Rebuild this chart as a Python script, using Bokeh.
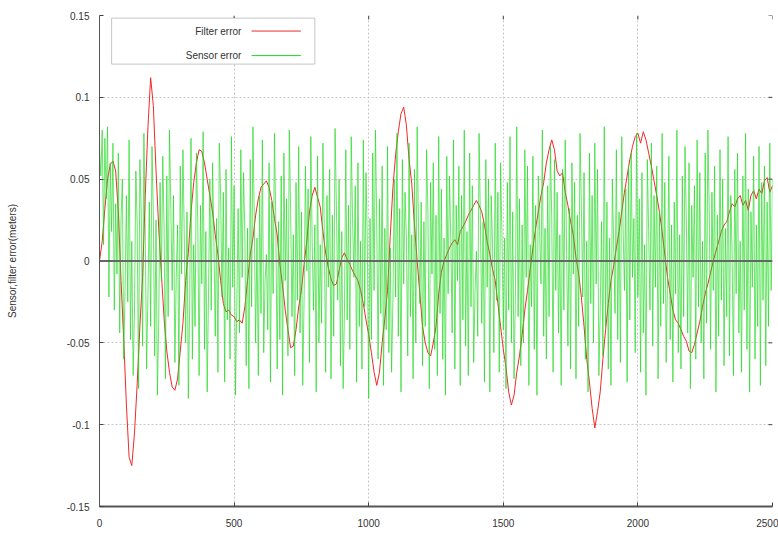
import numpy as np
from bokeh.plotting import figure
from bokeh.models import FixedTicker, Span, BoxAnnotation, Label, Range1d
from bokeh.embed import file_html
from bokeh.resources import INLINE

# ---- data -------------------------------------------------------------
# filter error, one sample every 10 time steps (0 .. 2500)
filter_step = 10
filter_error = [
    0.000, 0.012, 0.032, 0.050, 0.059, 0.061, 0.055, 0.030, -0.012, -0.048,
    -0.088, -0.120, -0.125, -0.105, -0.075, -0.040, -0.010, 0.040, 0.082, 0.112,
    0.095, 0.055, 0.020, -0.008, -0.035, -0.055, -0.068, -0.077, -0.079, -0.072,
    -0.055, -0.038, -0.012, 0.005, 0.030, 0.048, 0.060, 0.068, 0.067, 0.060,
    0.050, 0.040, 0.030, 0.016, 0.004, -0.012, -0.026, -0.031, -0.030, -0.033,
    -0.034, -0.037, -0.036, -0.038, -0.028, -0.012, 0.004, 0.014, 0.028, 0.038,
    0.045, 0.047, 0.049, 0.045, 0.037, 0.026, 0.016, -0.002, -0.015, -0.030,
    -0.042, -0.053, -0.052, -0.042, -0.028, -0.018, -0.002, 0.012, 0.030, 0.040,
    0.045, 0.039, 0.033, 0.018, 0.005, -0.004, -0.011, -0.015, -0.014, -0.006,
    0.002, 0.005, 0.001, -0.002, -0.006, -0.009, -0.012, -0.018, -0.026, -0.036,
    -0.045, -0.056, -0.068, -0.076, -0.068, -0.050, -0.035, -0.018, 0.015, 0.045,
    0.065, 0.079, 0.090, 0.094, 0.083, 0.062, 0.047, 0.022, 0.000, -0.020,
    -0.040, -0.050, -0.056, -0.058, -0.050, -0.040, -0.020, -0.007, 0.000, 0.004,
    0.008, 0.011, 0.013, 0.010, 0.018, 0.021, 0.024, 0.028, 0.031, 0.034,
    0.037, 0.034, 0.030, 0.022, 0.012, 0.004, -0.005, -0.012, -0.026, -0.040,
    -0.054, -0.065, -0.080, -0.088, -0.082, -0.068, -0.058, -0.045, -0.030, -0.018,
    -0.005, 0.008, 0.020, 0.030, 0.040, 0.048, 0.060, 0.068, 0.074, 0.068,
    0.055, 0.052, 0.054, 0.042, 0.034, 0.024, 0.016, 0.002, -0.008, -0.022,
    -0.040, -0.060, -0.074, -0.090, -0.102, -0.092, -0.080, -0.060, -0.042, -0.026,
    -0.012, -0.003, 0.008, 0.018, 0.030, 0.042, 0.052, 0.062, 0.070, 0.076,
    0.078, 0.072, 0.079, 0.074, 0.066, 0.058, 0.049, 0.040, 0.030, 0.018,
    0.004, -0.010, -0.020, -0.030, -0.036, -0.038, -0.042, -0.046, -0.049, -0.055,
    -0.056, -0.051, -0.044, -0.037, -0.028, -0.020, -0.014, -0.007, 0.000, 0.006,
    0.012, 0.018, 0.022, 0.024, 0.030, 0.035, 0.033, 0.038, 0.040, 0.034,
    0.037, 0.031, 0.040, 0.043, 0.038, 0.044, 0.041, 0.049, 0.051, 0.042,
    0.046,
]

# raw sensor error, one sample every 5 time steps (0 .. 2500)
sensor_step = 5
sensor_error = [
    0.070, 0.052, 0.080, 0.010, 0.075, 0.038, 0.082, -0.022, 0.060, 0.018, 0.072, -0.030, 0.035, -0.008, 0.066, -0.044,
    0.026, 0.050, -0.060, -0.018, 0.040, -0.025, 0.074, -0.048, 0.012, -0.070, -0.030, 0.055, 0.022, -0.078, 0.062, 0.030,
    -0.052, 0.078, 0.015, -0.066, -0.020, 0.036, -0.040, 0.070, 0.028, -0.058, 0.025, -0.082, -0.036, 0.048, -0.012, 0.064,
    0.020, -0.072, 0.052, -0.034, 0.080, 0.032, -0.018, 0.040, -0.062, -0.010, 0.022, -0.076, 0.058, -0.008, 0.068, 0.014,
    -0.050, 0.030, -0.084, -0.026, 0.075, -0.060, 0.010, -0.040, 0.066, 0.024, -0.070, 0.034, -0.014, 0.079, -0.054, 0.018,
    -0.080, -0.020, 0.050, -0.030, 0.060, 0.012, -0.046, 0.026, -0.068, 0.072, 0.040, -0.022, 0.042, -0.074, 0.056, -0.036,
    0.008, -0.060, 0.076, -0.016, 0.046, -0.082, -0.028, 0.032, -0.044, 0.068, -0.010, 0.054, 0.016, -0.064, 0.020, -0.078,
    0.062, -0.028, 0.082, 0.026, -0.050, 0.014, -0.070, 0.040, -0.032, 0.074, -0.056, -0.012, 0.004, -0.042, 0.060, -0.074,
    0.036, -0.020, 0.078, 0.022, -0.066, 0.024, -0.048, 0.052, -0.082, 0.066, -0.012, 0.038, -0.058, 0.080, 0.030, -0.034,
    0.016, -0.070, 0.048, -0.024, 0.070, -0.044, 0.030, -0.076, -0.024, 0.058, -0.006, 0.044, -0.062, 0.076, 0.012, -0.030,
    0.022, -0.080, 0.064, -0.050, 0.010, -0.038, 0.072, 0.018, -0.068, 0.040, -0.016, 0.056, -0.072, 0.028, -0.046, 0.081,
    0.034, -0.024, 0.050, -0.064, 0.018, -0.078, -0.030, 0.068, -0.036, 0.034, -0.054, 0.076, 0.026, -0.010, 0.046, -0.074,
    0.060, -0.040, 0.012, -0.066, 0.074, -0.028, 0.054, 0.010, -0.084, 0.026, -0.048, 0.066, -0.018, 0.080, 0.022, -0.060,
    0.038, -0.032, 0.058, -0.076, 0.020, -0.042, 0.070, -0.056, 0.008, -0.068, -0.024, 0.050, -0.022, 0.078, -0.046, 0.032,
    -0.080, 0.062, -0.014, 0.042, 0.014, -0.058, 0.072, -0.034, 0.016, -0.072, 0.056, -0.050, 0.082, 0.020, -0.026, 0.036,
    -0.064, 0.024, -0.040, 0.068, 0.030, -0.078, 0.048, -0.008, 0.060, -0.054, 0.028, -0.070, 0.076, -0.032, 0.044, -0.060,
    0.014, -0.082, 0.064, -0.020, 0.052, 0.012, -0.044, 0.074, -0.066, 0.034, -0.012, 0.058, -0.076, 0.040, -0.036, 0.080,
    -0.052, 0.018, -0.070, 0.066, -0.028, 0.046, -0.062, -0.018, 0.006, -0.046, 0.078, 0.024, -0.038, 0.024, -0.074, 0.062,
    -0.016, 0.050, -0.080, 0.040, 0.010, -0.056, 0.072, -0.024, 0.042, -0.068, 0.060, 0.016, -0.042, 0.014, -0.078, 0.048,
    -0.030, 0.076, -0.050, 0.030, -0.072, -0.020, 0.082, -0.034, 0.038, -0.064, 0.022, -0.050, 0.068, -0.010, 0.058, -0.076,
    0.010, -0.028, 0.064, -0.054, 0.034, -0.082, 0.052, 0.018, -0.014, 0.080, -0.046, 0.020, -0.060, 0.046, -0.034, 0.070,
    0.026, -0.068, 0.062, -0.018, 0.042, -0.044, 0.016, -0.076, 0.056, -0.030, 0.074, 0.008, -0.052, 0.032, -0.066, 0.060,
    -0.008, 0.048, -0.072, 0.028, -0.040, 0.078, 0.034, -0.022, 0.054, -0.060, 0.012, -0.080, 0.066, -0.026, 0.040, -0.050,
    0.072, -0.014, 0.056, -0.070, -0.030, 0.024, -0.058, 0.082, -0.040, 0.036, -0.066, 0.014, -0.076, 0.050, 0.010, -0.032,
    0.068, -0.048, 0.030, -0.062, 0.076, 0.020, -0.018, 0.044, -0.074, 0.058, -0.036, 0.066, -0.010, 0.026, -0.056, 0.078,
    -0.022, 0.038, -0.068, 0.054, -0.044, 0.010, -0.082, 0.062, 0.018, -0.030, 0.072, -0.052, 0.040, -0.016, 0.058, -0.072,
    0.030, -0.040, 0.078, -0.026, 0.048, -0.062, -0.012, 0.064, -0.048, 0.022, -0.074, 0.036, -0.020, 0.080, -0.056, 0.016,
    -0.066, 0.052, -0.034, 0.070, 0.024, -0.044, 0.060, -0.078, 0.034, -0.010, 0.046, -0.060, 0.074, -0.028, 0.054, -0.050,
    0.012, -0.072, 0.066, -0.038, 0.080, 0.030, -0.054, 0.042, -0.018, 0.058, -0.080, 0.028, -0.046, 0.068, -0.024, 0.050,
    -0.064, 0.020, -0.034, 0.076, -0.058, 0.040, 0.006, -0.070, 0.056, -0.020, 0.066, -0.044, 0.012, -0.068, 0.052, -0.030,
    0.078, -0.054, 0.044, -0.080, 0.030, -0.016, 0.064, -0.060, 0.022, -0.040, 0.070, -0.076, 0.048, -0.024, 0.058, -0.064,
    0.036, -0.040, 0.072, -0.018, 0.050,
]

x_ticks = [0, 500, 1000, 1500, 2000, 2500]
x_tick_labels = ["0", "500", "1000", "1500", "2000", "2500"]
y_ticks = [-0.15, -0.1, -0.05, 0.0, 0.05, 0.1, 0.15]
y_tick_labels = ["-0.15", "-0.1", "-0.05", "0", "0.05", "0.1", "0.15"]

series_names = ["Filter error", "Sensor error"]
series_colors = ["#ee2a2a", "#1ad81a"]

t_filter = np.arange(len(filter_error)) * filter_step
t_sensor = np.arange(len(sensor_error)) * sensor_step

FONT = "Liberation Sans Narrow, Liberation Sans, Arial"
X0, X1, Y0, Y1 = 0, 2500, -0.15, 0.15

# ---- figure -----------------------------------------------------------
p = figure(width=778, height=537, output_backend="svg", toolbar_location=None,
           x_range=Range1d(X0, X1), y_range=Range1d(Y0, Y1),
           min_border_left=99, min_border_right=6, min_border_top=15,
           min_border_bottom=31)
p.outline_line_color = None
p.background_fill_color = "white"

p.line(t_filter, filter_error, line_color=series_colors[0], line_width=1)
p.line(t_sensor, sensor_error, line_color=series_colors[1], line_width=1,
       line_alpha=0.65)

# zero reference line
p.add_layout(Span(location=0, dimension="width", line_color="#666666",
                  line_width=2))

# grid
for g in (p.xgrid, p.ygrid):
    g.grid_line_color = "#c8c8c8"
    g.grid_line_dash = "2 2"
    g.grid_line_width = 1
p.xgrid.ticker = FixedTicker(ticks=x_ticks)
p.ygrid.ticker = FixedTicker(ticks=y_ticks)

# axes
p.xaxis.ticker = FixedTicker(ticks=x_ticks)
p.xaxis.major_label_overrides = dict(zip(x_ticks, x_tick_labels))
p.yaxis.ticker = FixedTicker(ticks=y_ticks)
p.yaxis.major_label_overrides = dict(zip(y_ticks, y_tick_labels))
for ax in (p.xaxis[0], p.yaxis[0]):
    ax.axis_line_color = "#555555"
    ax.major_tick_line_color = "#444444"
    ax.major_tick_in = 4
    ax.major_tick_out = 0
    ax.minor_tick_line_color = None
    ax.major_label_text_font = FONT
    ax.major_label_text_font_size = "10px"
    ax.major_label_text_color = "#333333"
p.xaxis.axis_line_width = 2
p.xaxis.major_label_standoff = 12
p.yaxis.major_label_standoff = 10
p.yaxis.axis_label = "Sensor,filter error(meters)"
p.yaxis.axis_label_text_font = FONT
p.yaxis.axis_label_text_font_size = "10px"
p.yaxis.axis_label_text_font_style = "normal"
p.yaxis.axis_label_text_color = "#333333"
p.yaxis.axis_label_standoff = 46

# mirrored inward tick marks on the right and top edges (about 4 px long)
tick_dx = (X1 - X0) * 4 / 672
tick_dy = (Y1 - Y0) * 4 / 491
p.segment(x0=[X1 - tick_dx] * len(y_ticks), y0=y_ticks,
          x1=[X1] * len(y_ticks), y1=y_ticks, line_color="#444444")
p.segment(x0=x_ticks, y0=[Y1] * len(x_ticks),
          x1=x_ticks, y1=[Y1 - tick_dy] * len(x_ticks), line_color="#444444")

# key box in the upper left corner
p.add_layout(BoxAnnotation(left=45, right=800, bottom=0.1203, top=0.1484,
                           fill_color="white", fill_alpha=1.0,
                           line_color="#444444", line_width=1))
key_y = [0.1405, 0.1255]
for name, color, yk in zip(series_names, series_colors, key_y):
    p.add_layout(Label(x=527, y=yk, text=name, text_align="right",
                       text_baseline="middle", text_font=FONT,
                       text_font_size="10px", text_color="#333333"))
    p.segment(x0=[565], y0=[yk], x1=[748], y1=[yk], line_color=color,
              line_width=1, level="overlay")

open("out.html", "w").write(file_html(p, INLINE))
